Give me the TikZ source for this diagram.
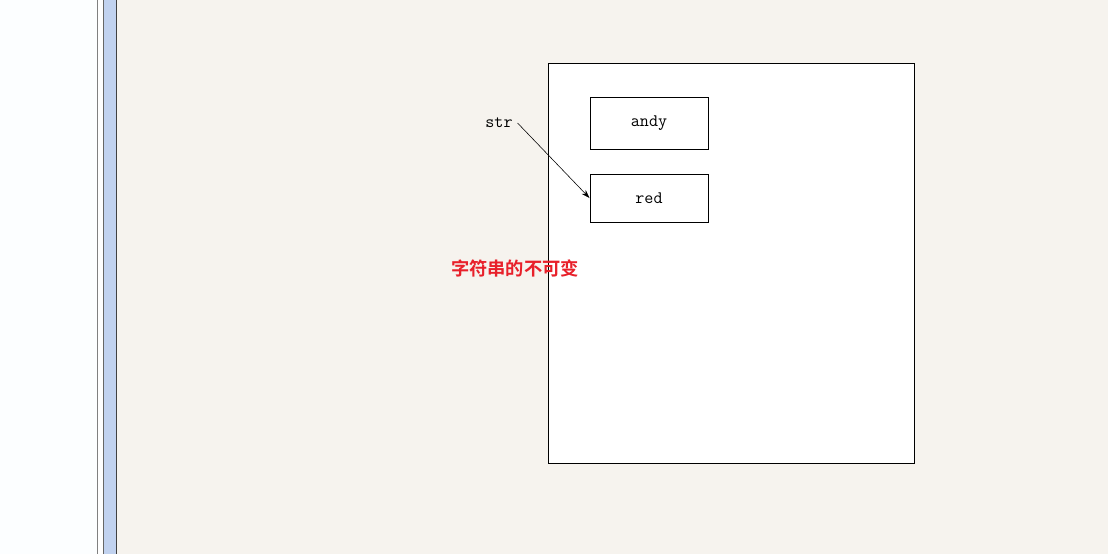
\documentclass[tikz,border=0pt]{standalone}
\usepackage{fontspec}
\newfontfamily\cjkbold[BoldFont={Noto Sans CJK SC Bold}]{Noto Sans CJK SC}
\usetikzlibrary{arrows.meta}
\definecolor{paneback}{HTML}{F6F3EE}
\definecolor{splitblue}{HTML}{C1D2EF}
\definecolor{notered}{HTML}{E8202A}
\tikzset{
    cell/.style={draw, line width=0.7pt, fill=white, minimum width=2.95cm, font=\ttfamily\fontsize{12.5}{14}\selectfont},
    heap/.style={draw, line width=0.7pt, fill=white!98!paneback, minimum width=9.125cm, minimum height=9.975cm}
}
\begin{document}
\begin{tikzpicture}[x=0.025cm, y=-0.025cm]
        % Window background and side pane
        \fill[paneback] (0,0) rectangle (1108,554);
        \useasboundingbox (0,0) rectangle (1108,554);
        \fill[white!99!cyan] (0,0) rectangle (97,554);
        \fill[white!94!paneback] (97,0) rectangle (104,554);
        \fill[splitblue] (104,0) rectangle (116,554);
        \draw[gray] (97.5,0) -- (97.5,554);
        \draw[gray!80!black] (103.5,0) -- (103.5,554);
        \draw[black!75] (116.5,0) -- (116.5,554);
        
        % Heap with the two strings
        \node[heap] (heap) at (731.5,263.5) {};
        \node[cell, minimum height=1.3cm] (andy) at (649,123) {andy};
        \node[cell, minimum height=1.2cm] (red) at (649,198) {red};
        
        % Reference
        \node[font=\ttfamily\fontsize{12.5}{14}\selectfont] (str) at (499,123) {str};
        \draw[-{Stealth[length=6pt,width=4pt]}] (str.east) -- (red.west);
        
        % Caption
        \node[font=\cjkbold\bfseries\fontsize{13}{15}\selectfont, text=notered] (note) at (515,268) {字符串的不可变};
    \end{tikzpicture}
\end{document}
